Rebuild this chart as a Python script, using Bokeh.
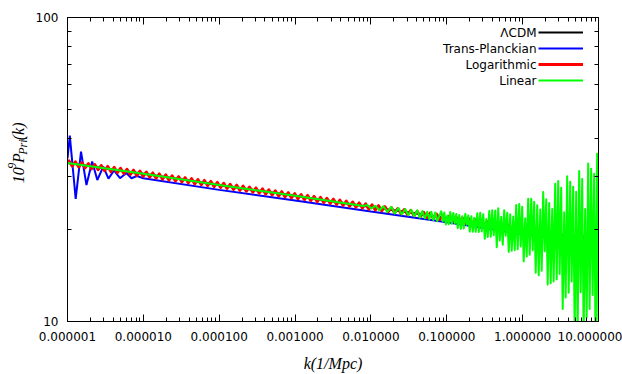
from math import pi
import numpy as np
from bokeh.plotting import figure
from bokeh.layouts import row
from bokeh.models import (Range1d, FixedTicker, LogAxis, PrintfTickFormatter,
                          CustomJSTickFormatter, Label, Legend, LegendItem)
from bokeh.core.properties import value
from bokeh.embed import file_html
from bokeh.resources import INLINE

# ---------------- data ----------------
x_tick_values = [1e-6, 1e-5, 1e-4, 1e-3, 1e-2, 1e-1, 1.0, 10.0]
x_minor_values = [m * d for d in [1e-6, 1e-5, 1e-4, 1e-3, 1e-2, 1e-1, 1.0] for m in range(2, 10)]
y_tick_values = [10, 100]
y_minor_values = [20, 30, 40, 50, 60, 70, 80, 90]

legend_texts = ["\u039bCDM", "Trans-Planckian", "Logarithmic", "Linear"]

# LambdaCDM
lcdm_k = [1e-6, 1e-5, 1e-4, 1e-3, 1e-2, 1e-1, 1.0, 10.0]
lcdm_p = [33.2, 30.6, 28.1, 25.9, 23.8, 21.9, 20.1, 18.5]

# Trans-Planckian
tp_k = [1.0e-6, 1.072e-6, 1.282e-6, 1.507e-6, 1.778e-6, 2.113e-6, 2.472e-6, 2.965e-6,
        3.467e-6, 4.102e-6, 4.920e-6, 5.980e-6, 6.970e-6, 8.240e-6,
        1e-5, 1e-4, 1e-3, 1e-2, 1e-1, 1.0, 10.0]
tp_p = [34.4, 40.9, 25.3, 36.2, 28.1, 33.6, 29.2, 32.3,
        29.5, 31.4, 29.6, 30.8, 29.6, 30.1,
        29.6, 27.1, 25.0, 23.0, 21.2, 19.4, 17.9]

# Logarithmic: maxima and minima of the oscillation (log10 k, P)
log_peaks_log10k = [
    -5.980, -5.895, -5.810, -5.725, -5.640, -5.555, -5.470, -5.385, -5.300, -5.215,
    -5.130, -5.045, -4.960, -4.875, -4.790, -4.705, -4.620, -4.535, -4.450, -4.365,
    -4.280, -4.195, -4.110, -4.025, -3.940, -3.855, -3.770, -3.685, -3.600, -3.515,
    -3.430, -3.345, -3.260, -3.175, -3.090, -3.005, -2.920, -2.835, -2.750, -2.665,
    -2.580, -2.495, -2.410, -2.325, -2.240, -2.155, -2.070, -1.985, -1.900, -1.815,
    -1.730, -1.645, -1.560, -1.475, -1.390, -1.305, -1.220, -1.135, -1.050, -0.965,
    -0.880, -0.795, -0.710, -0.625, -0.540, -0.455, -0.370, -0.285, -0.200, -0.115,
    -0.030, 0.055, 0.140, 0.225, 0.310, 0.395, 0.480, 0.565, 0.650, 0.735,
    0.820, 0.905, 0.990]
log_peaks_p = [
    33.80, 33.56, 33.32, 33.09, 32.86, 32.62, 32.39, 32.17, 31.94, 31.71,
    31.49, 31.27, 31.05, 30.83, 30.61, 30.39, 30.18, 29.97, 29.75, 29.54,
    29.34, 29.13, 28.92, 28.72, 28.52, 28.31, 28.11, 27.92, 27.72, 27.52,
    27.33, 27.14, 26.94, 26.75, 26.56, 26.38, 26.19, 26.01, 25.82, 25.64,
    25.46, 25.28, 25.10, 24.92, 24.75, 24.57, 24.40, 24.23, 24.06, 23.89,
    23.72, 23.55, 23.38, 23.22, 23.06, 22.89, 22.73, 22.57, 22.41, 22.25,
    22.10, 21.94, 21.79, 21.63, 21.48, 21.33, 21.18, 21.03, 20.88, 20.73,
    20.59, 20.44, 20.30, 20.15, 20.01, 19.87, 19.73, 19.59, 19.45, 19.31,
    19.18, 19.04, 18.91]
log_troughs_log10k = [
    -6.0225, -5.9375, -5.8525, -5.7675, -5.6825, -5.5975, -5.5125, -5.4275, -5.3425, -5.2575,
    -5.1725, -5.0875, -5.0025, -4.9175, -4.8325, -4.7475, -4.6625, -4.5775, -4.4925, -4.4075,
    -4.3225, -4.2375, -4.1525, -4.0675, -3.9825, -3.8975, -3.8125, -3.7275, -3.6425, -3.5575,
    -3.4725, -3.3875, -3.3025, -3.2175, -3.1325, -3.0475, -2.9625, -2.8775, -2.7925, -2.7075,
    -2.6225, -2.5375, -2.4525, -2.3675, -2.2825, -2.1975, -2.1125, -2.0275, -1.9425, -1.8575,
    -1.7725, -1.6875, -1.6025, -1.5175, -1.4325, -1.3475, -1.2625, -1.1775, -1.0925, -1.0075,
    -0.9225, -0.8375, -0.7525, -0.6675, -0.5825, -0.4975, -0.4125, -0.3275, -0.2425, -0.1575,
    -0.0725, 0.0125, 0.0975, 0.1825, 0.2675, 0.3525, 0.4375, 0.5225, 0.6075, 0.6925,
    0.7775, 0.8625, 0.9475, 1.0325]
log_troughs_p = [
    32.66, 32.43, 32.20, 31.97, 31.75, 31.53, 31.30, 31.08, 30.87, 30.65,
    30.43, 30.22, 30.00, 29.79, 29.58, 29.37, 29.16, 28.96, 28.76, 28.55,
    28.34, 28.15, 27.95, 27.75, 27.56, 27.37, 27.16, 26.97, 26.79, 26.60,
    26.41, 26.22, 26.04, 25.85, 25.67, 25.48, 25.31, 25.13, 24.96, 24.77,
    24.60, 24.43, 24.26, 24.08, 23.91, 23.75, 23.58, 23.41, 23.25, 23.09,
    22.92, 22.76, 22.60, 22.43, 22.28, 22.13, 21.96, 21.81, 21.66, 21.50,
    21.35, 21.21, 21.05, 20.91, 20.75, 20.61, 20.47, 20.32, 20.18, 20.03,
    19.89, 19.76, 19.61, 19.48, 19.33, 19.20, 19.07, 18.93, 18.80, 18.66,
    18.53, 18.40, 18.27, 18.14]

# Linear: smooth part, onset of oscillation, dense oscillation (log10 k, P)
lin_smooth_log10k = [-6.0, -5.0, -4.0, -3.0, -2.1]
lin_smooth_p = [33.2, 30.6, 28.1, 25.9, 24.0]
lin_onset_log10k = [-2.047, -1.995, -1.942, -1.889, -1.837, -1.784, -1.731, -1.685,
                    -1.639, -1.593, -1.547, -1.507, -1.468, -1.428, -1.389, -1.356,
                    -1.323, -1.290, -1.257, -1.230, -1.204, -1.178, -1.152, -1.125]
lin_onset_p = [24.17, 23.52, 24.04, 23.23, 23.94, 22.93, 23.81, 22.66,
               23.63, 22.49, 23.45, 22.34, 23.29, 22.19, 23.23, 21.97,
               23.09, 21.85, 22.97, 21.65, 22.95, 21.56, 22.85, 21.38]
lin_dense_log10k = [
    -1.073, -1.053, -1.033, -1.013, -0.993, -0.974, -0.954, -0.934, -0.914, -0.894,
    -0.875, -0.855, -0.835, -0.815, -0.796, -0.776, -0.756, -0.736, -0.717, -0.697,
    -0.677, -0.657, -0.638, -0.618, -0.598, -0.578, -0.559, -0.539, -0.519, -0.499,
    -0.480, -0.460, -0.440, -0.420, -0.401, -0.381, -0.361, -0.341, -0.322, -0.302,
    -0.282, -0.262, -0.243, -0.223, -0.203, -0.183, -0.164, -0.144, -0.124, -0.104,
    -0.085, -0.065, -0.045, -0.025, -0.006, 0.014, 0.034, 0.054, 0.073, 0.093,
    0.113, 0.133, 0.152, 0.172, 0.192, 0.212, 0.232, 0.251, 0.271, 0.291,
    0.311, 0.330, 0.350, 0.370, 0.390, 0.409, 0.429, 0.449, 0.469, 0.488,
    0.508, 0.528, 0.548, 0.567, 0.587, 0.607, 0.627, 0.646, 0.666, 0.686,
    0.706, 0.725, 0.745, 0.765, 0.785, 0.804, 0.824, 0.844, 0.864, 0.883,
    0.903, 0.923, 0.943, 0.962, 0.982, 1.002]
lin_dense_p = [
    23.06, 21.37, 22.83, 20.85, 22.30, 20.89, 22.92, 20.95, 22.75, 21.03,
    22.57, 20.27, 22.42, 20.16, 22.19, 20.25, 22.61, 20.82, 22.34, 19.76,
    22.21, 19.75, 21.96, 19.73, 22.71, 19.70, 22.78, 19.80, 22.55, 18.72,
    21.72, 18.97, 23.08, 19.01, 23.23, 19.22, 23.16, 17.56, 23.56, 18.48,
    22.12, 17.88, 23.24, 19.16, 22.78, 16.94, 22.54, 17.09, 22.15, 17.17,
    24.17, 17.29, 24.35, 17.64, 23.84, 15.77, 21.88, 16.35, 25.33, 16.59,
    25.35, 17.14, 24.75, 14.46, 24.13, 14.19, 23.36, 14.69, 26.68, 17.01,
    25.22, 13.23, 24.55, 13.37, 23.44, 13.55, 28.40, 13.76, 28.97, 14.34,
    27.55, 11.00, 22.88, 12.00, 30.03, 12.43, 28.82, 13.54, 27.73, 9.34,
    26.70, 9.10, 31.25, 12.47, 29.45, 8.98, 23.44, 10.30, 33.10, 11.00,
    31.82, 12.22, 30.64, 7.74, 35.63, 7.48]

# ---------------- y-axis title strip (rich text: 10^9 P_Pri.(k)) ----------------
STRIP_W = 30
ylab = figure(width=STRIP_W, height=374, x_range=Range1d(0, STRIP_W), y_range=Range1d(0, 374),
              output_backend="svg", toolbar_location=None,
              min_border=0, x_axis_location=None, y_axis_location=None)
ylab.grid.visible = False
ylab.outline_line_color = None
ylab_parts = [("10", 18, 170, "16px"), ("9", 11, 188, "12px"), ("P", 18, 195, "16px"),
              ("Pri.", 22, 205, "12px"), ("(k)", 18, 223, "16px")]
for text, tx, ty, fs in ylab_parts:
    ylab.text(x=[tx], y=[ty], text=[text], angle=pi / 2,
              text_align="left", text_baseline="alphabetic",
              text_font=value("Liberation Serif"), text_font_style="italic",
              text_font_size=fs, text_color="black")

# ---------------- main figure ----------------
p = figure(width=622 - STRIP_W, height=374, x_axis_type="log", y_axis_type="log",
           x_range=Range1d(1e-6, 10), y_range=Range1d(10, 100),
           output_backend="svg", toolbar_location=None,
           min_border_left=67 - STRIP_W, min_border_right=24,
           min_border_top=17, min_border_bottom=53)
p.xgrid.visible = False
p.ygrid.visible = False
p.outline_line_color = "black"
p.outline_line_width = 1


def style_axis(ax, label_size="12px"):
    ax.major_tick_in = 7
    ax.major_tick_out = 0
    ax.minor_tick_in = 4
    ax.minor_tick_out = 0
    ax.axis_line_color = "black"
    ax.major_tick_line_color = "black"
    ax.minor_tick_line_color = "black"
    ax.major_label_text_font = "DejaVu Sans"
    ax.major_label_text_font_size = label_size
    ax.major_label_text_color = "black"


xa = p.xaxis[0]
xa.ticker = FixedTicker(ticks=x_tick_values, minor_ticks=x_minor_values)
xa.formatter = PrintfTickFormatter(format="%.6f")
style_axis(xa)
xa.major_label_standoff = 10
xa.axis_label = "k(1/Mpc)"
xa.axis_label_text_font = "Liberation Serif"
xa.axis_label_text_font_style = "italic"
xa.axis_label_text_font_size = "16px"
xa.axis_label_text_color = "black"
xa.axis_label_standoff = 11

ya = p.yaxis[0]
ya.ticker = FixedTicker(ticks=y_tick_values, minor_ticks=y_minor_values)
ya.formatter = PrintfTickFormatter(format="%d")
style_axis(ya)
ya.major_label_standoff = 9

top = LogAxis(ticker=FixedTicker(ticks=x_tick_values, minor_ticks=x_minor_values),
              formatter=CustomJSTickFormatter(code="return ''"))
style_axis(top, "0px")
top.major_label_standoff = 0
p.add_layout(top, "above")

right = LogAxis(ticker=FixedTicker(ticks=[], minor_ticks=y_minor_values),
                formatter=CustomJSTickFormatter(code="return ''"))
style_axis(right, "0px")
right.major_label_standoff = 0
p.add_layout(right, "right")

# ---------------- series ----------------
r_lcdm = p.line(lcdm_k, lcdm_p, line_color="#000000", line_width=2)
r_tp = p.line(tp_k, tp_p, line_color="#0000ff", line_width=2)

log_lk = np.array(log_peaks_log10k + log_troughs_log10k)
log_pp = np.array(log_peaks_p + log_troughs_p)
order = np.argsort(log_lk)
r_log = p.line(10.0 ** log_lk[order], log_pp[order], line_color="#ff0000",
               line_width=2.8, line_join="round")

lin_lk = np.array(lin_smooth_log10k + lin_onset_log10k + lin_dense_log10k)
lin_pp = np.array(lin_smooth_p + lin_onset_p + lin_dense_p)
r_lin = p.line(10.0 ** lin_lk, lin_pp, line_color="#00ff00", line_width=2,
               line_join="round")

# ---------------- legend (gnuplot style: text left, sample right) ----------------
legend = Legend(items=[LegendItem(label=value(""), renderers=[r])
                       for r in [r_lcdm, r_tp, r_log, r_lin]],
                location=(471, 233), orientation="vertical",
                glyph_width=45, glyph_height=16, label_height=16, label_width=0,
                label_standoff=0, spacing=0, padding=0, margin=0,
                label_text_font_size="12px",
                border_line_color=None, background_fill_alpha=0)
p.add_layout(legend)

for text, yy in zip(legend_texts, [289, 273, 257, 241]):
    p.add_layout(Label(x=469, y=yy, x_units="screen", y_units="screen", text=text,
                       text_align="right", text_baseline="middle",
                       text_font="DejaVu Sans", text_font_size="12px",
                       text_color="black"))

layout = row(ylab, p, spacing=0)
open("out.html", "w").write(file_html(layout, INLINE))
